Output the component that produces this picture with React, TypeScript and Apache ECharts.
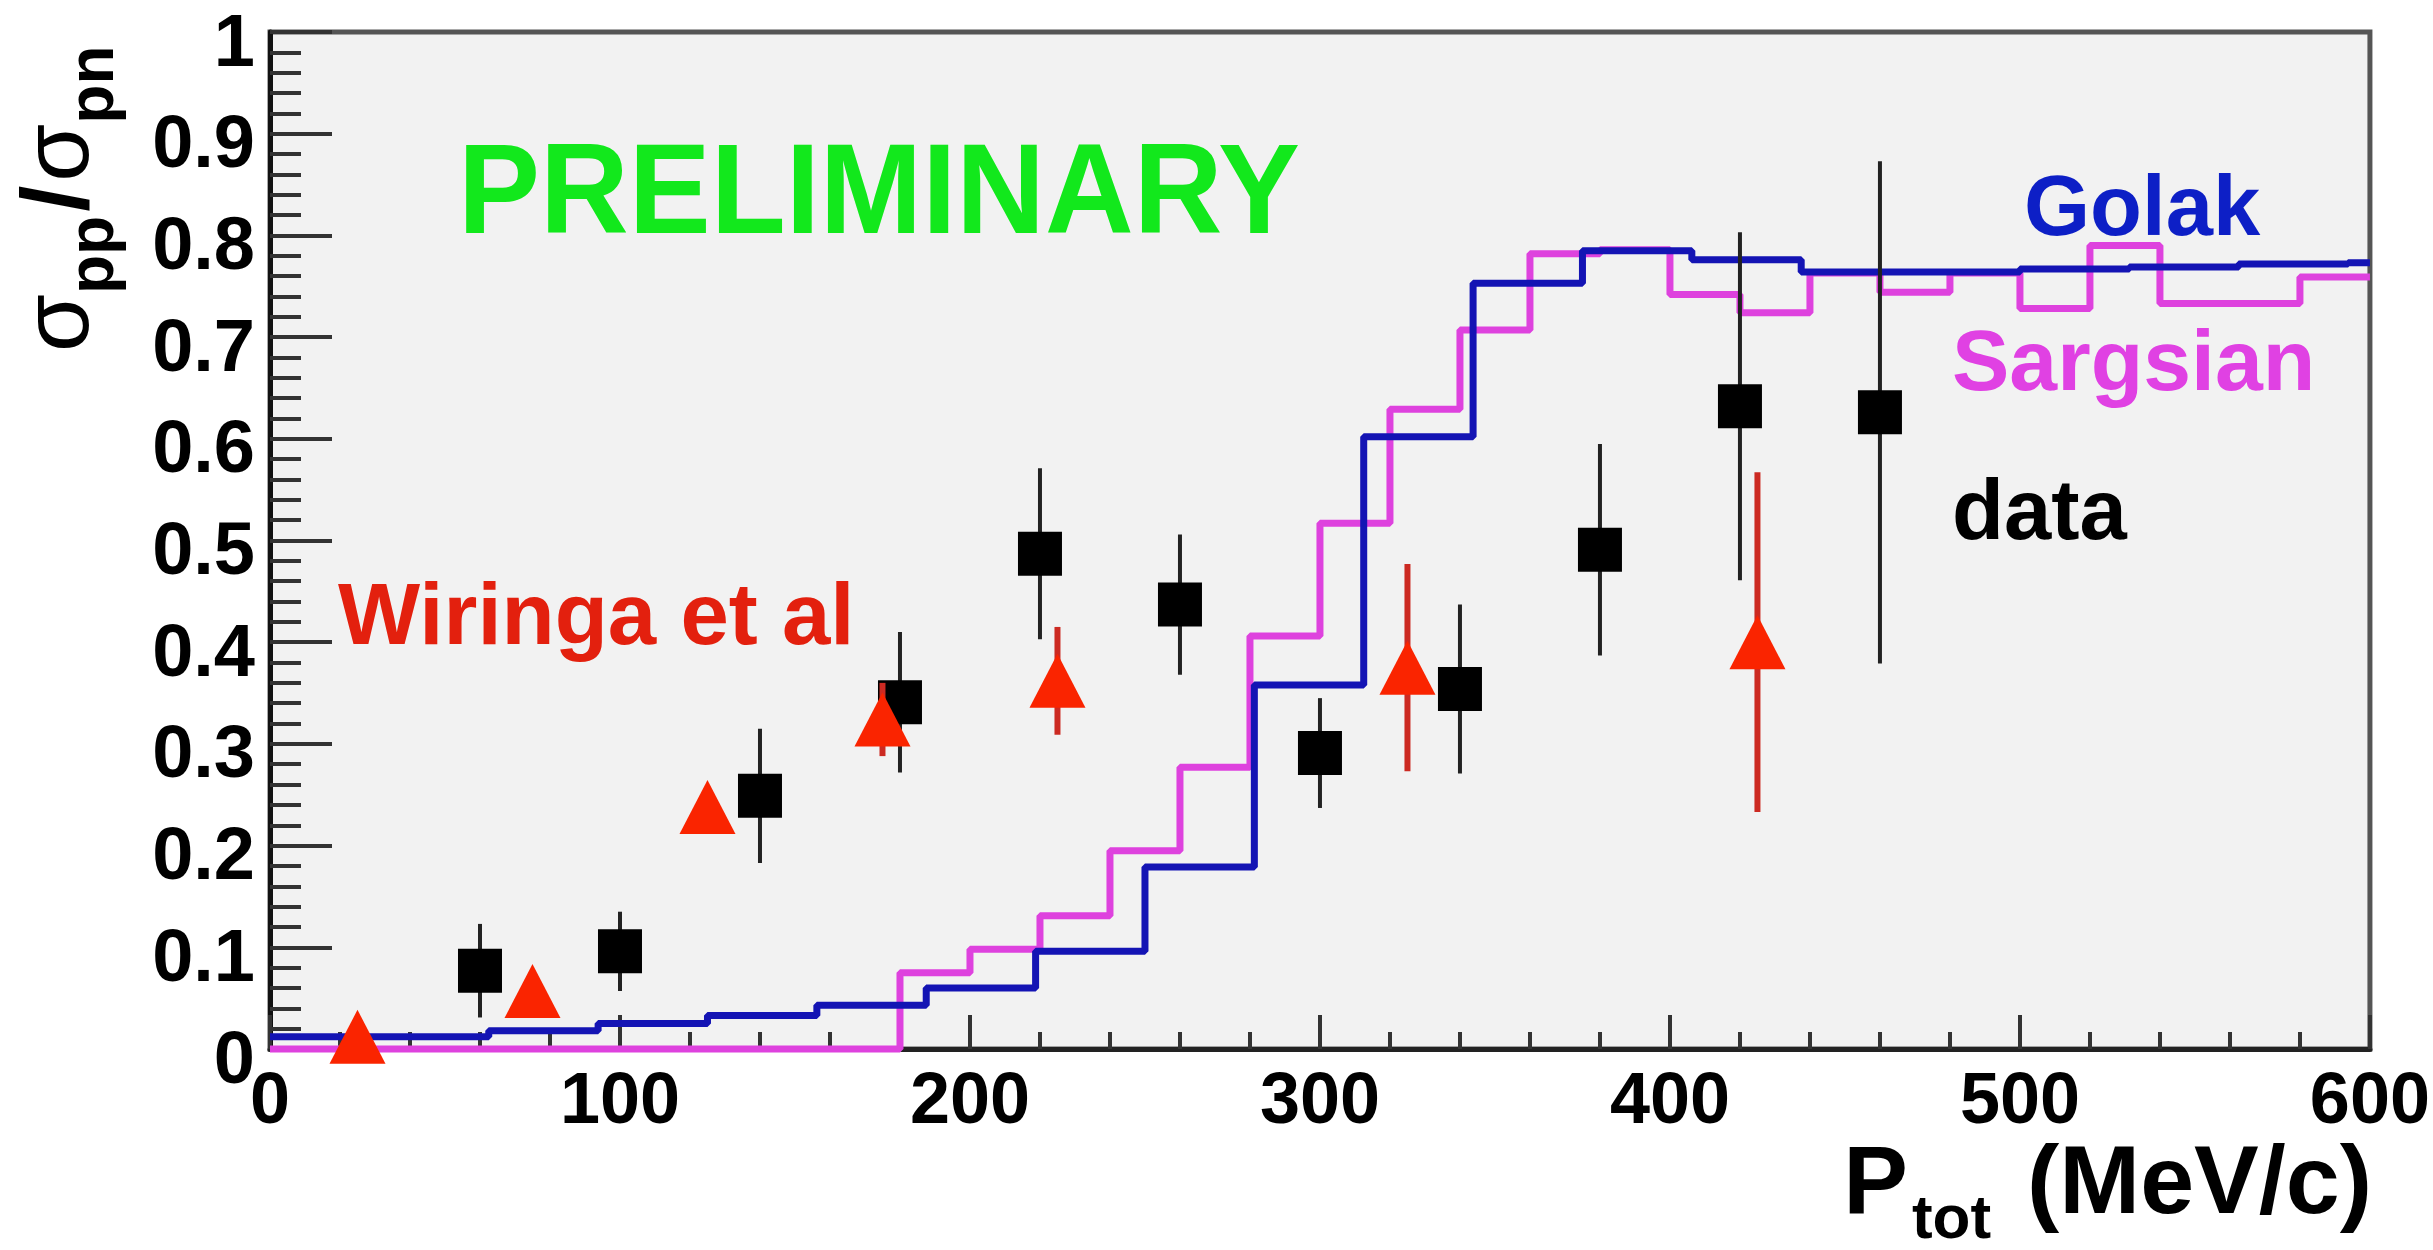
import React, { useEffect, useRef } from "react";
import * as echarts from "echarts";

const FONT = "'Liberation Sans', Arial, Helvetica, sans-serif";

// Axis ranges / ticks
const X_MIN = 0;
const X_MAX = 600;
const X_INTERVAL = 100;
const Y_MIN = 0;
const Y_MAX = 1;
const Y_INTERVAL = 0.1;

// Golak calculation (histogram, bin lower edges in MeV/c and bin contents)
const golakEdges = [
  0, 31.25, 62.5, 93.75, 125, 156.25, 187.5, 218.75, 250, 281.25,
  312.5, 343.75, 375, 406.25, 437.5, 468.75, 500, 531.25, 562.5, 593.75,
];
const golakValues = [
  0.012, 0.012, 0.018, 0.025, 0.033, 0.043, 0.06, 0.096, 0.179, 0.358,
  0.602, 0.753, 0.785, 0.776, 0.764, 0.764, 0.767, 0.769, 0.772, 0.773,
];

// Sargsian calculation (histogram, 20 MeV/c bins)
const sargsianEdges = [
  0, 20, 40, 60, 80, 100, 120, 140, 160, 180,
  200, 220, 240, 260, 280, 300, 320, 340, 360, 380,
  400, 420, 440, 460, 480, 500, 520, 540, 560, 580,
];
const sargsianValues = [
  0, 0, 0, 0, 0, 0, 0, 0, 0, 0.075,
  0.098, 0.131, 0.195, 0.277, 0.406, 0.517, 0.629, 0.707, 0.782, 0.786,
  0.742, 0.724, 0.763, 0.744, 0.763, 0.728, 0.79, 0.733, 0.733, 0.759,
];

// Measured data (black squares)
const dataX = [60, 100, 140, 180, 220, 260, 300, 340, 380, 420, 460];
const dataY = [0.077, 0.096, 0.249, 0.341, 0.487, 0.437, 0.291, 0.354, 0.491, 0.632, 0.626];
const dataErr = [0.046, 0.039, 0.066, 0.069, 0.084, 0.069, 0.054, 0.083, 0.104, 0.171, 0.247];

// Wiringa et al (red triangles)
const wiringaX = [25, 75, 125, 175, 225, 325, 425];
const wiringaY = [0.012, 0.057, 0.238, 0.324, 0.362, 0.375, 0.4];
const wiringaErr = [0, 0, 0, 0.036, 0.053, 0.102, 0.167];

const histPoints = (edges: number[], values: number[]) => {
  const pts = edges.map((e, i) => [e, values[i]]);
  pts.push([X_MAX, values[values.length - 1]]);
  return pts;
};

const errorBarSeries = (xs: number[], ys: number[], errs: number[], color: string, width: number, z: number) => ({
  type: "custom",
  z,
  clip: false,
  silent: true,
  encode: { x: 0, y: [1, 2] },
  data: xs.map((x, i) => [x, ys[i] - errs[i], ys[i] + errs[i]]),
  renderItem: (params: any, api: any) => {
    const x = api.value(0);
    const p1 = api.coord([x, api.value(1)]);
    const p2 = api.coord([x, api.value(2)]);
    return {
      type: "line",
      shape: { x1: p1[0], y1: p1[1], x2: p2[0], y2: p2[1] },
      style: { stroke: color, lineWidth: width },
    };
  },
});

export default function App() {
  const ref = useRef<HTMLDivElement>(null);

  useEffect(() => {
    document.body.style.margin = "0";
    document.body.style.overflow = "hidden";
    if (!ref.current) return;
    const chart = echarts.init(ref.current, null, { renderer: "svg" });

    const axisLabelBase = {
      color: "#000",
      fontWeight: "bold",
      fontFamily: FONT,
    };

    const option: any = {
      animation: false,
      backgroundColor: "#ffffff",
      textStyle: { fontFamily: FONT },
      grid: {
        left: 270,
        right: 58,
        top: 32,
        bottom: 201,
        show: true,
        backgroundColor: "#f2f2f2",
        borderColor: "#555555",
        borderWidth: 5,
      },
      xAxis: {
        type: "value",
        min: X_MIN,
        max: X_MAX,
        interval: X_INTERVAL,
        axisLine: { show: true, onZero: false, lineStyle: { color: "#222", width: 5 } },
        axisTick: { show: true, inside: true, length: 34, lineStyle: { color: "#333", width: 4 } },
        minorTick: { show: true, splitNumber: 5, length: 17, lineStyle: { color: "#333", width: 4 } },
        splitLine: { show: false },
        minorSplitLine: { show: false },
        axisLabel: { ...axisLabelBase, fontSize: 72, margin: 13 },
      },
      yAxis: {
        type: "value",
        min: Y_MIN,
        max: Y_MAX,
        interval: Y_INTERVAL,
        axisLine: { show: true, onZero: false, lineStyle: { color: "#111", width: 5 } },
        axisTick: { show: true, inside: true, length: 62, lineStyle: { color: "#333", width: 4 } },
        minorTick: { show: true, splitNumber: 5, length: 31, lineStyle: { color: "#333", width: 4 } },
        splitLine: { show: false },
        minorSplitLine: { show: false },
        axisLabel: {
          ...axisLabelBase,
          fontSize: 74,
          margin: 15,
          verticalAlign: "top",
          lineHeight: 16,
          formatter: (v: number) => String(Math.round(v * 10) / 10),
        },
      },
      series: [
        {
          name: "Sargsian",
          type: "line",
          step: "end",
          z: 2,
          clip: false,
          showSymbol: false,
          symbol: "none",
          lineStyle: { color: "#de42de", width: 7 },
          data: histPoints(sargsianEdges, sargsianValues),
        },
        {
          name: "Golak",
          type: "line",
          step: "end",
          z: 2,
          clip: false,
          showSymbol: false,
          symbol: "none",
          lineStyle: { color: "#1414b4", width: 7 },
          data: histPoints(golakEdges, golakValues),
        },
        errorBarSeries(dataX, dataY, dataErr, "#222222", 4, 3),
        {
          name: "data",
          type: "scatter",
          z: 4,
          clip: false,
          symbol: "rect",
          symbolSize: 44,
          itemStyle: { color: "#000000", opacity: 1 },
          data: dataX.map((x, i) => [x, dataY[i]]),
        },
        errorBarSeries(wiringaX, wiringaY, wiringaErr, "#cc2a22", 6, 5),
        {
          name: "Wiringa et al",
          type: "scatter",
          z: 6,
          clip: false,
          symbol: "triangle",
          symbolSize: [56, 54],
          itemStyle: { color: "#fa2400", opacity: 1 },
          data: wiringaX.map((x, i) => [x, wiringaY[i]]),
        },
      ],
      graphic: {
        elements: [
          {
            type: "text",
            z: 100,
            x: 458,
            y: 189,
            scaleX: 0.96,
            style: {
              text: "PRELIMINARY",
              fontSize: 128,
              fontWeight: "bold",
              fontFamily: FONT,
              fill: "#12e81c",
              align: "left",
              verticalAlign: "middle",
            },
          },
          {
            type: "text",
            z: 100,
            x: 338,
            y: 613,
            style: {
              text: "Wiringa et al",
              fontSize: 87,
              fontWeight: "bold",
              fontFamily: FONT,
              fill: "#e3200e",
              align: "left",
              verticalAlign: "middle",
            },
          },
          {
            type: "text",
            z: 100,
            x: 2024,
            y: 205,
            style: {
              text: "Golak",
              fontSize: 85,
              fontWeight: "bold",
              fontFamily: FONT,
              fill: "#0d1fc6",
              align: "left",
              verticalAlign: "middle",
            },
          },
          {
            type: "text",
            z: 100,
            x: 1952,
            y: 360,
            style: {
              text: "Sargsian",
              fontSize: 86,
              fontWeight: "bold",
              fontFamily: FONT,
              fill: "#e041e3",
              align: "left",
              verticalAlign: "middle",
            },
          },
          {
            type: "text",
            z: 100,
            x: 1952,
            y: 509,
            style: {
              text: "data",
              fontSize: 85,
              fontWeight: "bold",
              fontFamily: FONT,
              fill: "#000000",
              align: "left",
              verticalAlign: "middle",
            },
          },
          {
            type: "text",
            z: 100,
            x: 55,
            y: 352,
            rotation: Math.PI / 2,
            style: {
              text: "{g|σ}{s|pp}{m|/}{g|σ}{s|pn}",
              align: "left",
              verticalAlign: "middle",
              rich: {
                g: { fontSize: 94, fontWeight: "normal", fontFamily: FONT, fill: "#000" },
                m: { fontSize: 94, fontWeight: "bold", fontFamily: FONT, fill: "#000", padding: [0, 4, 0, 4] },
                s: { fontSize: 64, fontWeight: "bold", fontFamily: FONT, fill: "#000", padding: [72, 0, 0, 0], lineHeight: 20 },
              },
            },
          },
          {
            type: "text",
            z: 100,
            x: 2372,
            y: 1179,
            style: {
              text: "{m|P}{s|tot}{p|(MeV/c)}",
              align: "right",
              verticalAlign: "middle",
              rich: {
                m: { fontSize: 97, fontWeight: "bold", fontFamily: FONT, fill: "#000" },
                p: { fontSize: 97, fontWeight: "bold", fontFamily: FONT, fill: "#000", padding: [0, 0, 0, 36] },
                s: { fontSize: 62, fontWeight: "bold", fontFamily: FONT, fill: "#000", padding: [74, 0, 0, 4], lineHeight: 20 },
              },
            },
          },
        ],
      },
    };

    chart.setOption(option);
    return () => {
      chart.dispose();
    };
  }, []);

  return <div ref={ref} style={{ width: 2433, height: 1250 }} />;
}
